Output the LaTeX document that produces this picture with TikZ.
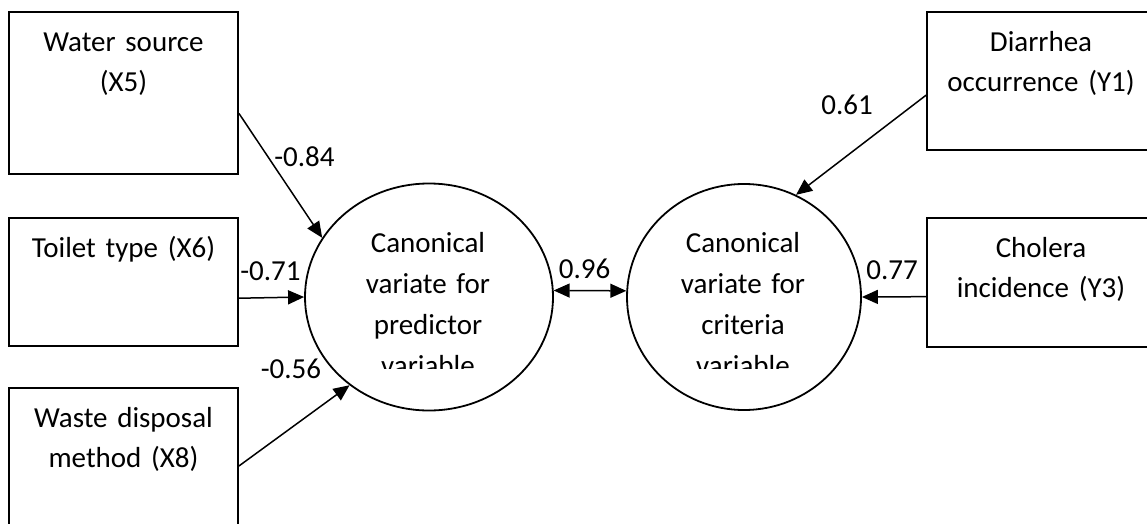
\documentclass[tikz,border=0pt]{standalone}
\usepackage{fontspec}
\setmainfont{Carlito}
\usetikzlibrary{arrows.meta,shapes.geometric}
\begin{document}
\begin{tikzpicture}[x=1pt,y=-1pt,
  box/.style={draw,line width=1.8pt,minimum width=229pt,inner sep=0pt},
  var/.style={draw,ellipse,line width=1.8pt,inner sep=0pt},
  txt/.style={font=\fontsize{29}{40}\selectfont,align=center,text width=260pt,anchor=base,inner sep=0pt},
  ctxt/.style={font=\fontsize{29}{41}\selectfont,align=center,text width=260pt,anchor=base,inner sep=0pt},
  num/.style={font=\fontsize{29}{40}\selectfont,anchor=base,inner sep=0pt},
  arr/.style={line width=1.5pt,-{Triangle[length=16pt,width=14pt]}},
  darr/.style={line width=1.5pt,{Triangle[length=16pt,width=14pt]}-{Triangle[length=16pt,width=14pt]}}
  ]
\useasboundingbox[fill=white] (0,0) rectangle (1147,524);
\clip (0,0) rectangle (1147,524);
% boxes
\node[box,minimum height=162pt] (X5) at (123.5,93) {};
\node[box,minimum height=128pt] (X6) at (123.5,282) {};
\node[box,minimum height=152pt] (X8) at (123.5,464) {};
\node[box,minimum height=138pt] (Y1) at (1041.5,81) {};
\node[box,minimum height=129pt] (Y3) at (1041.5,282.5) {};
\node[txt] (tX5) at (123.5,52) {Water source\\(X5)};
\node[txt] (tX6) at (123.5,257) {Toilet type (X6)};
\node[txt] (tX8) at (123.5,427) {Waste disposal\\method (X8)};
\node[txt] (tY1) at (1041,52) {Diarrhea\\occurrence (Y1)};
\node[txt] (tY3) at (1041,257) {Cholera\\incidence (Y3)};
% latent variates
\node[var,minimum width=248pt,minimum height=227pt] (P) at (429,297) {};
\node[var,minimum width=234pt,minimum height=226pt] (C) at (744,297) {};
\begin{scope}
\clip (300,180) rectangle (870,368);
\node[ctxt] (tP) at (428,252) {Canonical\\variate for\\predictor\\variable};
\node[ctxt] (tC) at (743,252) {Canonical\\variate for\\criteria\\variable};
\end{scope}
% connectors
\draw[arr] (X5.-10.4) -- (P.151);
\draw[arr] (X6.-8) -- (P.west);
\draw[arr] (X8.-1.5) -- (P.228.3);
\draw[arr] (Y1.187.5) -- (C.63);
\draw[arr] (Y3.187.7) -- (C.east);
\draw[darr] (P.3) -- (C.177);
% labels
\node[num] (l84) at (304.5,166) {-0.84};
\node[num] (l71) at (270.5,280) {-0.71};
\node[num] (l56) at (291,378) {-0.56};
\node[num] (l96) at (584.5,278) {0.96};
\node[num] (l61) at (847,114) {0.61};
\node[num] (l77) at (892,279) {0.77};
\end{tikzpicture}
\end{document}
